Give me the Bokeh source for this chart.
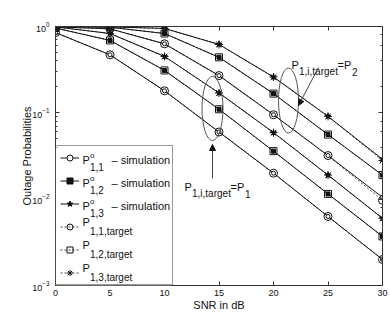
from bokeh.plotting import figure
from bokeh.models import (Range1d, LogAxis, LinearAxis, FixedTicker, LogTicker,
                          Legend, LegendItem, Label, Arrow, NormalHead,
                          CustomJSTickFormatter, BoxAnnotation)
from bokeh.embed import file_html
from bokeh.resources import INLINE

# ---------------- data ----------------
snr = [0, 5, 10, 15, 20, 25, 30]
x_ticks = [0, 5, 10, 15, 20, 25, 30]

# P_{1,i,target} = P_1 group (lower curves)
sim_a_11 = [0.85, 0.47, 0.18, 0.060, 0.020, 0.0063, 0.0020]
sim_a_12 = [0.96, 0.69, 0.31, 0.110, 0.036, 0.0115, 0.0037]
sim_a_13 = [0.99, 0.83, 0.45, 0.170, 0.059, 0.0190, 0.0060]
tgt_a_11 = [0.85, 0.47, 0.18, 0.060, 0.020, 0.0063, 0.0020]
tgt_a_12 = [0.96, 0.69, 0.31, 0.110, 0.036, 0.0115, 0.0037]
tgt_a_13 = [0.99, 0.83, 0.45, 0.170, 0.059, 0.0190, 0.0060]

# P_{1,i,target} = P_2 group (upper curves)
sim_b_11 = [0.99, 0.94, 0.63, 0.27, 0.095, 0.032, 0.0105]
sim_b_12 = [1.00, 0.98, 0.83, 0.44, 0.167, 0.056, 0.0190]
sim_b_13 = [1.00, 0.99, 0.95, 0.62, 0.260, 0.091, 0.0290]
tgt_b_11 = [0.99, 0.94, 0.63, 0.27, 0.095, 0.032, 0.0097]
tgt_b_12 = [1.00, 0.98, 0.83, 0.44, 0.167, 0.056, 0.0190]
tgt_b_13 = [1.00, 0.99, 0.95, 0.62, 0.260, 0.091, 0.0280]

FONT = "Liberation Sans"
INK = "#111111"

p = figure(frame_width=327, frame_height=259,
           x_range=Range1d(0, 30), y_range=Range1d(1e-3, 1),
           y_axis_type="log", output_backend="svg", toolbar_location=None,
           min_border_left=55, min_border_right=8, min_border_top=26,
           min_border_bottom=28, background_fill_color="white",
           border_fill_color="white", outline_line_color="#333333")
p.xgrid.visible = False
p.ygrid.visible = False

blank = CustomJSTickFormatter(code="return ''")

def style_axis(ax, labels=True):
    ax.axis_line_color = "#333333"
    ax.major_tick_line_color = "#333333"
    ax.minor_tick_line_color = "#333333"
    ax.major_tick_in = 4
    ax.major_tick_out = 0
    ax.minor_tick_in = 2
    ax.minor_tick_out = 0
    ax.major_label_text_font = FONT
    ax.major_label_text_color = INK
    ax.axis_label_text_font = FONT
    ax.axis_label_text_font_style = "normal"
    ax.axis_label_text_color = INK
    ax.major_label_text_font_size = "9px"
    ax.axis_label_text_font_size = "11px"
    if not labels:
        ax.formatter = blank
        ax.major_label_standoff = 0

xa = p.xaxis[0]
style_axis(xa)
xa.ticker = FixedTicker(ticks=x_ticks)
xa.minor_tick_line_color = None
xa.axis_label = "SNR in dB"
xa.major_label_standoff = 4
xa.axis_label_standoff = 0

ya = p.yaxis[0]
style_axis(ya)
ya.axis_label = "Outage Probabilities"
ya.major_label_standoff = 6
ya.axis_label_standoff = -4

top = LinearAxis(ticker=FixedTicker(ticks=x_ticks))
style_axis(top, labels=False)
top.minor_tick_line_color = None
p.add_layout(top, "above")
right = LogAxis(ticker=LogTicker())
style_axis(right, labels=False)
p.add_layout(right, "right")

# ---------------- curves ----------------
sim_style = {
    "circle": dict(marker="circle", size=4, fill_color="white"),
    "square": dict(marker="square", size=4, fill_color=INK),
    "star": dict(marker="star", size=6, fill_color=INK),
}
tgt_style = {
    "circle": dict(marker="circle", size=8, fill_color=None),
    "square": dict(marker="square", size=7, fill_color=None),
    "star": dict(marker="asterisk", size=8, fill_color=None),
}

series = [
    ("circle", sim_a_11, tgt_a_11, sim_b_11, tgt_b_11),
    ("square", sim_a_12, tgt_a_12, sim_b_12, tgt_b_12),
    ("star", sim_a_13, tgt_a_13, sim_b_13, tgt_b_13),
]

sim_items, tgt_items = [], []
for kind, sa, ta, sb, tb in series:
    sim_r, tgt_r = [], []
    for tv in (ta, tb):
        tgt_r.append(p.line(snr, tv, line_color="#444444", line_width=1, line_dash="2 2"))
        tgt_r.append(p.scatter(snr, tv, line_color=INK, line_width=1, **tgt_style[kind]))
    for sv in (sa, sb):
        sim_r.append(p.line(snr, sv, line_color=INK, line_width=1))
        sim_r.append(p.scatter(snr, sv, line_color=INK, line_width=1, **sim_style[kind]))
    sim_items.append(LegendItem(label=" ", renderers=sim_r[:2]))
    tgt_items.append(LegendItem(label=" ", renderers=tgt_r[:2]))

# ---------------- annotations (page pixel geometry of the frame) ----------------
FX0, FX1, FY0, FY1 = 55, 382, 26, 285

def to_data(px, py):
    x = (px - FX0) / (FX1 - FX0) * 30
    y = 10 ** (-3 * (py - FY0) / (FY1 - FY0))
    return x, y

# legend box: 116 x 138 px in the lower-left corner of the frame
LEG_W, LEG_H = 116, 138
bx_right, _ = to_data(FX0 + LEG_W, FY1)
_, bx_top = to_data(FX0, FY1 - LEG_H)
p.add_layout(BoxAnnotation(left=0, right=bx_right, bottom=1e-3, top=bx_top,
                           fill_color="white", fill_alpha=1, line_color=None))

legend = Legend(items=sim_items + tgt_items, location="bottom_left", margin=0,
                padding=4, spacing=8, glyph_height=15, glyph_width=19,
                label_height=15, label_width=85, label_standoff=4,
                label_text_font_size="10px", border_line_color="#333333",
                background_fill_alpha=0)
p.add_layout(legend)

def txt(px, py, s, size):
    x, y = to_data(px, py)
    p.add_layout(Label(x=x, y=y, text=s, text_font=FONT, text_font_size=size,
                       text_color=INK, text_align="left", text_baseline="middle",
                       level="overlay"))

# legend texts
row0, pitch = FY1 - LEG_H + 4 + 7.5, 23
for k in range(3):
    r = row0 + pitch * k
    txt(82, r + 1, "P", "11px")
    txt(89.5, r - 4, "o", "8px")
    txt(89.5, r + 8, "1,%d" % (k + 1), "10px")
    txt(111, r + 1, "\u2013 simulation", "11px")
for k in range(3):
    r = row0 + pitch * (k + 3)
    txt(82, r - 6, "P", "11px")
    txt(89.5, r + 3, "1,%d,target" % (k + 1), "10px")

# group labels
txt(184, 186, "P", "11px")
txt(191.5, 193, "1,i,target", "10px")
txt(230, 186, "=P", "11px")
txt(244.5, 193, "1", "10px")

txt(291, 64, "P", "11px")
txt(298.5, 71, "1,i,target", "10px")
txt(337, 64, "=P", "11px")
txt(351.5, 71, "2", "10px")

# ellipses around marker groups
for (cx, cy, w, h) in [(212, 108, 21, 64), (288, 100, 20, 65)]:
    ex, ey = to_data(cx, cy)
    p.ellipse(x=[ex], y=[ey], width=w, height=h, width_units="screen",
              height_units="screen", fill_color=None, line_color="#555555", line_width=1)

# arrows
for (x0, y0, x1, y1) in [(212, 178, 212, 144), (318, 67, 298, 105)]:
    xs, ys = to_data(x0, y0)
    xe, ye = to_data(x1, y1)
    p.add_layout(Arrow(x_start=xs, y_start=ys, x_end=xe, y_end=ye,
                       line_color="#444444", line_width=1,
                       end=NormalHead(size=6, fill_color=INK, line_color=INK)))

open("out.html", "w").write(file_html(p, INLINE))
